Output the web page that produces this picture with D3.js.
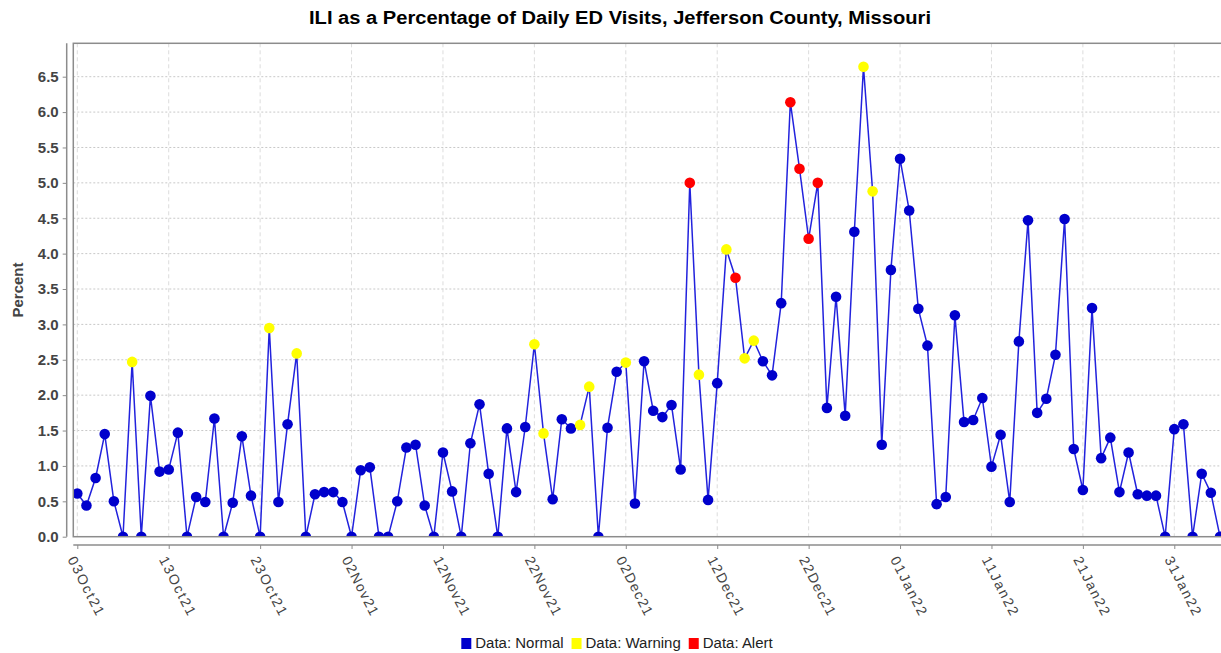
<!DOCTYPE html>
<html>
<head>
<meta charset="utf-8">
<script src="https://cdn.jsdelivr.net/npm/d3@7"></script>
<style>
  body { margin: 0; background: #fff; }
  text { font-family: "Liberation Sans", Arial, sans-serif; }
</style>
</head>
<body>
<script>
// daily ILI share of ED visits, 03Oct21 .. 05Feb22
var startDay = Date.UTC(2021, 9, 3);
var endDay = Date.UTC(2022, 1, 5);

var percentValues = [
  0.61, 0.44, 0.83, 1.45, 0.50, 0.00, 2.47, 0.00, 1.99, 0.92,
  0.95, 1.47, 0.00, 0.56, 0.49, 1.67, 0.00, 0.48, 1.42, 0.58,
  0.00, 2.95, 0.49, 1.59, 2.59, 0.00, 0.60, 0.63, 0.63, 0.49,
  0.00, 0.94, 0.98, 0.00, 0.00, 0.50, 1.26, 1.30, 0.44, 0.00,
  1.19, 0.64, 0.00, 1.32, 1.87, 0.89, 0.00, 1.53, 0.63, 1.55,
  2.72, 1.46, 0.53, 1.66, 1.53, 1.58, 2.12, 0.00, 1.54, 2.33,
  2.46, 0.47, 2.48, 1.78, 1.69, 1.86, 0.95, 5.00, 2.29, 0.52,
  2.17, 4.06, 3.66, 2.52, 2.77, 2.48, 2.28, 3.30, 6.14, 5.20,
  4.21, 5.00, 1.82, 3.39, 1.71, 4.31, 6.64, 4.88, 1.30, 3.77,
  5.34, 4.61, 3.22, 2.70, 0.46, 0.56, 3.13, 1.62, 1.65, 1.96,
  0.99, 1.44, 0.49, 2.76, 4.47, 1.75, 1.95, 2.57, 4.49, 1.24,
  0.66, 3.23, 1.11, 1.40, 0.63, 1.19, 0.60, 0.58, 0.58, 0.00,
  1.52, 1.59, 0.00, 0.89, 0.62, 0.00
];

// day indexes flagged by the detector
var warningDays = [6, 21, 24, 50, 51, 55, 56, 60, 68, 71, 73, 74, 86, 87];
var alertDays = [67, 72, 78, 79, 80, 81];

var yTickValues = [0, 0.5, 1, 1.5, 2, 2.5, 3, 3.5, 4, 4.5, 5, 5.5, 6, 6.5];

var legendItems = ["Data: Normal", "Data: Warning", "Data: Alert"];
var statusColors = {normal: "#0000cc", warning: "#ffff00", alert: "#ff0000"};

var W = 1221, H = 653;
var plot = {left: 73.3, top: 43.3, right: 1240, bottom: 536.7};

var days = d3.utcDay.range(new Date(startDay), d3.utcDay.offset(new Date(endDay), 1));
var data = days.map(function(d, i) {
  var status = 'normal';
  if (warningDays.indexOf(i) >= 0) status = 'warning';
  if (alertDays.indexOf(i) >= 0) status = 'alert';
  return {date: d, value: percentValues[i], status: status};
});

var x = d3.scaleUtc()
    .domain([new Date(startDay), new Date(endDay)])
    .range([77.3, 1220]);

var y = d3.scaleLinear()
    .domain([0, d3.max(percentValues) * 1.05])
    .range([plot.bottom, plot.top]);

var xTicks = d3.utcDay.range(new Date(startDay), new Date(endDay), 10);
var fmtDate = d3.utcFormat("%d%b%y");

var svg = d3.select("body").append("svg")
    .attr("width", W)
    .attr("height", H);

svg.append("rect").attr("width", W).attr("height", H).attr("fill", "#fff");

svg.append("defs").append("clipPath").attr("id", "plotClip")
  .append("rect")
    .attr("x", plot.left)
    .attr("y", plot.top)
    .attr("width", plot.right - plot.left)
    .attr("height", plot.bottom - plot.top);

// grid
var grid = svg.append("g");
grid.selectAll(".hgrid")
    .data(yTickValues.filter(function(v) { return v > 0; }))
  .enter().append("line")
    .attr("x1", plot.left).attr("x2", plot.right)
    .attr("y1", function(d) { return y(d); })
    .attr("y2", function(d) { return y(d); })
    .attr("stroke", "#c8c8c8")
    .attr("stroke-width", 1)
    .attr("stroke-dasharray", "2,2");

grid.selectAll(".vgrid")
    .data(xTicks)
  .enter().append("line")
    .attr("x1", function(d) { return x(d); })
    .attr("x2", function(d) { return x(d); })
    .attr("y1", plot.top).attr("y2", plot.bottom)
    .attr("stroke", "#dcdcdc")
    .attr("stroke-width", 1)
    .attr("stroke-dasharray", "4,3");

// series
var g = svg.append("g").attr("clip-path", "url(#plotClip)");

var line = d3.line()
    .x(function(d) { return x(d.date); })
    .y(function(d) { return y(d.value); });

g.append("path")
    .datum(data)
    .attr("d", line)
    .attr("fill", "none")
    .attr("stroke", "#2222dd")
    .attr("stroke-width", 1.5);

g.selectAll("circle")
    .data(data)
  .enter().append("circle")
    .attr("cx", function(d) { return x(d.date); })
    .attr("cy", function(d) { return y(d.value); })
    .attr("r", 5.3)
    .attr("fill", function(d) { return statusColors[d.status]; });

// plot outline
svg.append("rect")
    .attr("x", plot.left).attr("y", plot.top)
    .attr("width", plot.right - plot.left)
    .attr("height", plot.bottom - plot.top)
    .attr("fill", "none")
    .attr("stroke", "#8c8c8c")
    .attr("stroke-width", 1.5);

// y axis (offset from plot)
var yAxis = d3.axisLeft(y)
    .tickValues(yTickValues)
    .tickFormat(d3.format(".1f"))
    .tickSize(4)
    .tickPadding(4);

var yAxisG = svg.append("g")
    .attr("transform", "translate(66.7,0)")
    .call(yAxis);
yAxisG.select(".domain").attr("stroke", "#8c8c8c").attr("stroke-width", 1.5)
    .attr("d", "M0," + plot.top + "V" + plot.bottom);
yAxisG.selectAll(".tick line").attr("stroke", "#8c8c8c");
yAxisG.selectAll(".tick text")
    .attr("fill", "#444")
    .style("font-size", "15px")
    .style("font-weight", "bold")
    .style("font-family", "'Liberation Sans', Arial, sans-serif");

// x axis (offset from plot)
var xAxis = d3.axisBottom(x)
    .tickValues(xTicks)
    .tickFormat(fmtDate)
    .tickSize(4);

var xAxisG = svg.append("g")
    .attr("transform", "translate(0,545)")
    .call(xAxis);
xAxisG.select(".domain").attr("stroke", "#8c8c8c").attr("stroke-width", 1.5)
    .attr("d", "M" + plot.left + ",0H" + plot.right);
xAxisG.selectAll(".tick line").attr("stroke", "#8c8c8c");
xAxisG.selectAll(".tick text")
    .attr("fill", "#444")
    .attr("text-anchor", "start")
    .attr("x", 0).attr("y", 0).attr("dy", 0)
    .attr("transform", "translate(-10.5,14.5) rotate(63)")
    .attr("textLength", 64)
    .attr("lengthAdjust", "spacing")
    .style("font-size", "14px")
    .style("font-family", "'Liberation Sans', Arial, sans-serif");

// axis title
svg.append("text")
    .attr("transform", "translate(23," + ((plot.top + plot.bottom) / 2) + ") rotate(-90)")
    .attr("text-anchor", "middle")
    .attr("fill", "#444")
    .style("font-size", "15px")
    .style("font-weight", "bold")
    .text("Percent");

// title
svg.append("text")
    .attr("x", 620)
    .attr("y", 24)
    .attr("text-anchor", "middle")
    .attr("fill", "#000")
    .attr("textLength", 622)
    .attr("lengthAdjust", "spacingAndGlyphs")
    .style("font-size", "18px")
    .style("font-weight", "bold")
    .text("ILI as a Percentage of Daily ED Visits, Jefferson County, Missouri");

// legend
var legend = svg.append("g");
var lx = 0;
var legendKeys = ["normal", "warning", "alert"];
legendItems.forEach(function(label, i) {
  var item = legend.append("g").attr("transform", "translate(" + lx + ",0)");
  item.append("rect")
      .attr("x", 0).attr("y", -10)
      .attr("width", 10).attr("height", 11)
      .attr("fill", statusColors[legendKeys[i]]);
  var t = item.append("text")
      .attr("x", 14).attr("y", 0)
      .attr("fill", "#222")
      .style("font-size", "14px")
      .text(label);
  var w = t.node().getComputedTextLength() * 1.07;
  t.attr("textLength", w).attr("lengthAdjust", "spacingAndGlyphs");
  lx += 14 + w + 8;
});
legend.attr("transform", "translate(" + (617 - (lx - 8) / 2) + ",648)");
</script>
</body>
</html>
